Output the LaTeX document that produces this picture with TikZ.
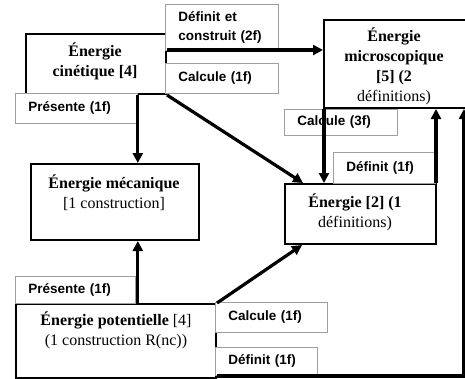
\documentclass[tikz,border=0pt]{standalone}
\usepackage{fontspec}
\setmainfont{Liberation Serif}
\setsansfont{Liberation Sans}
\usetikzlibrary{arrows.meta}
\begin{document}
\begin{tikzpicture}[x=1pt,y=-1pt,
  box/.style={draw=black,line width=2pt,fill=white,inner sep=0pt,anchor=north west},
  lab/.style={draw=gray!75,line width=0.8pt,fill=white,anchor=north west,inner xsep=13pt,inner ysep=0pt,align=left,font=\sffamily\bfseries\fontsize{13.5}{19.5}\selectfont},
  btext/.style={align=center,inner sep=0pt,font=\fontsize{16}{20}\selectfont},
  arr/.style={line width=3.2pt,-{Triangle[length=10pt,width=10pt]}}]
\useasboundingbox (0,0) rectangle (465,378);
% boxes
\node[box,minimum width=140pt,minimum height=60pt] (cin) at (25,33) {};
\node[box,minimum width=142pt,minimum height=88pt] (mic) at (323,19) {};
\node[box,minimum width=168pt,minimum height=76pt] (mec) at (30,163) {};
\node[box,minimum width=151pt,minimum height=60pt] (ene) at (284,183) {};
\node[box,minimum width=200pt,minimum height=74pt] (pot) at (15,303) {};
% box texts
\node[btext] (tcin) at (95,61) {\textbf{Énergie}\\\textbf{cinétique [4]}};
\node[btext] (tmic) at (394,66) {\textbf{Énergie}\\\textbf{microscopique}\\\textbf{[5] (2}\\définitions)};
\node[btext] (tmec) at (114,193) {\textbf{Énergie mécanique}\\{[1 construction]}};
\node[btext] (tene) at (355,212) {\textbf{Énergie [2] (1}\\définitions)};
\node[btext] (tpot) at (116,330) {\textbf{Énergie potentielle} [4]\\(1 construction R(nc))};
% labels
\node[lab,text width=87pt,minimum height=46pt] (ldef2) at (165,4) {Définit et\\construit (2f)};
\node[lab,text width=87pt,minimum height=30pt] (lcal1) at (165,63) {Calcule (1f)};
\node[lab,text width=96pt,minimum height=30pt] (lpre1) at (15,93) {Présente (1f)};
\node[lab,text width=87pt,minimum height=26pt] (lcal3) at (284,109) {Calcule (3f)};
\node[lab,text width=76pt,minimum height=31pt] (ldef1) at (333,152) {Définit (1f)};
\node[lab,text width=94pt,minimum height=27pt] (lpre2) at (15,276) {Présente (1f)};
\node[lab,text width=86pt,minimum height=30pt] (lcal1b) at (215,302) {Calcule (1f)};
\node[lab,text width=76pt,minimum height=28pt] (ldef1b) at (215,347) {Définit (1f)};
% arrows
\draw[arr] ([yshift=-17pt]cin.north east) -- ([yshift=-17pt]cin.north east -| mic.west);
\draw[arr] (cin.south -| lpre1.east) -- (mec.north -| lpre1.east);
\draw[arr] (pot.north -| lpre1.east) -- (mec.south -| lpre1.east);
\draw[arr] (cin.south east) -- ([xshift=19pt]ene.north west);
\draw[arr] (pot.north east) -- ([xshift=18pt]ene.south west);
\draw[arr] ([xshift=1pt]mic.south west) -- ([xshift=1pt]mic.south west |- ene.north);
\draw[arr] ([xshift=-1pt]ene.north east) -- ([xshift=-1pt]ene.north east |- mic.south);
\draw[arr] ([yshift=3pt]pot.south east) -| ([xshift=-3pt]mic.south east);
\end{tikzpicture}
\end{document}
